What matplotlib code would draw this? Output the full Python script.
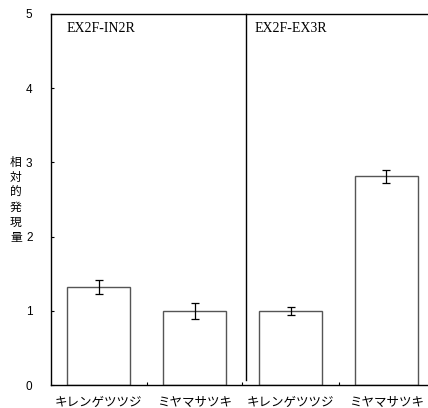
import matplotlib.pyplot as plt
import numpy as np

plt.rcParams['font.family'] = ['Liberation Sans', 'Noto Sans CJK JP']

# relative expression, two primer sets x two species
species = ['キレンゲツツジ', 'ミヤマサツキ', 'キレンゲツツジ', 'ミヤマサツキ']
expr = [1.32, 1.00, 1.00, 2.81]
err = [0.10, 0.11, 0.05, 0.09]
primers = ['EX2F-IN2R', 'EX2F-EX3R']

fig = plt.figure(figsize=(4.28, 4.08), dpi=100)
ax = fig.add_axes([50.5 / 428, 23 / 408, 384 / 428, 371 / 408])

x = np.arange(len(species))
ax.bar(x, expr, width=0.66, color='white', edgecolor='#555555', linewidth=1.0, zorder=2)
ax.errorbar(x, expr, yerr=err, fmt='none', ecolor='black', elinewidth=0.9,
            capsize=3, capthick=0.9, zorder=3)

# divider between the two primer sets
ax.plot([1.54, 1.54], [0.07, 5], color='black', linewidth=1.0, clip_on=False)

ax.text(-0.33, 4.8, primers[0], family='Liberation Serif', fontsize=10, va='center')
ax.text(1.63, 4.8, primers[1], family='Liberation Serif', fontsize=10, va='center')

ax.set_xlim(-0.5, 3.5)
ax.set_ylim(0, 5)
ax.set_yticks([0, 1, 2, 3, 4, 5])
ax.set_xticks(x)
ax.set_xticklabels(species, fontsize=9, family=['Noto Sans CJK JP'])
ax.set_xticks([0.5, 1.5, 2.5], minor=True)
ax.tick_params(axis='x', which='major', length=0, pad=8)
ax.tick_params(axis='x', which='minor', direction='in', length=2, width=0.8)
ax.tick_params(axis='y', direction='in', length=2, width=0.8, labelsize=8.5, pad=13)

for side in ['left', 'top', 'bottom']:
    ax.spines[side].set_linewidth(1.0)
ax.spines['right'].set_visible(False)

fig.text(16 / 428, 1 - 200 / 408, '相\n対\n的\n発\n現\n量', fontsize=8.5,
         family=['Noto Sans CJK JP'], ha='center', va='center', linespacing=1.2)

fig.savefig('out.png', dpi=100)
